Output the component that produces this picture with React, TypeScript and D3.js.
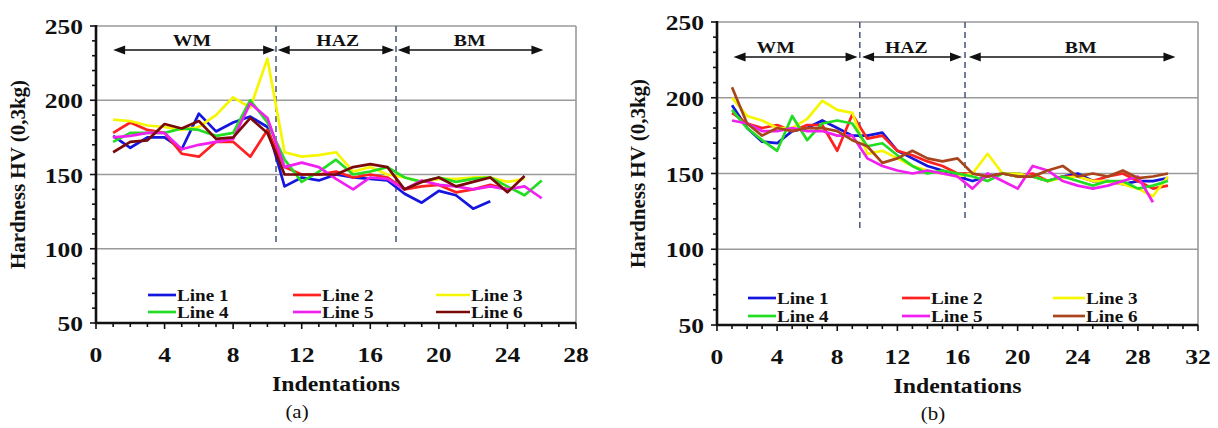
import React from 'react';
import * as d3 from 'd3';

// ---- data ----
const seriesNames = ['Line 1', 'Line 2', 'Line 3', 'Line 4', 'Line 5', 'Line 6'];
const colorsA = ['#1515e0', '#ff2020', '#f6f600', '#22dd22', '#f020f0', '#7a0a0a'];
const colorsB = ['#1515e0', '#ff2020', '#f6f600', '#22dd22', '#f020f0', '#a8451c'];

// (a) hardness per indentation, starting at indentation 1
const a1 = [176, 168, 175, 175, 167, 191, 179, 185, 189, 182, 142, 148, 146, 150, 148, 147, 146, 137, 131, 139, 136, 127, 132];
const a2 = [178, 185, 180, 178, 164, 162, 172, 172, 162, 180, 155, 150, 150, 152, 148, 150, 148, 140, 142, 143, 138, 140, 143, 140];
const a3 = [187, 186, 183, 182, 180, 182, 190, 202, 195, 228, 165, 162, 163, 165, 152, 155, 150, 148, 145, 147, 147, 148, 148, 145, 147];
const a4 = [172, 178, 178, 178, 181, 180, 176, 178, 200, 185, 160, 145, 152, 160, 150, 152, 155, 148, 145, 148, 145, 147, 148, 142, 136, 146];
const a5 = [175, 176, 178, 178, 167, 170, 172, 174, 198, 188, 155, 158, 155, 147, 140, 148, 147, 140, 146, 143, 142, 140, 142, 140, 142, 134];
const a6 = [165, 172, 173, 184, 181, 186, 174, 175, 188, 178, 150, 150, 150, 150, 155, 157, 155, 140, 145, 148, 142, 145, 148, 138, 149];

// (b)
const b1 = [195, 180, 171, 170, 178, 180, 185, 180, 175, 175, 177, 165, 160, 155, 152, 148, 145, 148, 150, 150, 148, 145, 148, 150, 145, 145, 143, 145, 145, 147];
const b2 = [190, 183, 180, 182, 178, 182, 182, 165, 189, 173, 175, 165, 162, 158, 155, 150, 150, 148, 150, 148, 150, 145, 148, 148, 145, 148, 150, 145, 140, 142];
const b3 = [200, 188, 185, 180, 180, 186, 198, 192, 190, 163, 165, 160, 155, 152, 150, 148, 150, 163, 150, 150, 148, 145, 147, 148, 145, 145, 143, 140, 135, 148];
const b4 = [192, 180, 172, 165, 188, 172, 183, 185, 183, 168, 170, 162, 155, 150, 152, 150, 148, 145, 150, 148, 148, 145, 148, 145, 142, 145, 145, 140, 142, 145];
const b5 = [185, 183, 178, 178, 180, 178, 178, 175, 175, 160, 155, 152, 150, 152, 150, 148, 140, 150, 145, 140, 155, 152, 145, 142, 140, 142, 145, 148, 131];
const b6 = [207, 183, 175, 180, 178, 180, 180, 178, 172, 168, 157, 160, 165, 160, 158, 160, 150, 148, 150, 148, 148, 152, 155, 148, 150, 148, 152, 147, 148, 150];

// zone boundaries and zone arrows (indentation units)
const zonesA = [
  { label: 'WM', from: 1, to: 10.45, at: 5.6 },
  { label: 'HAZ', from: 10.6, to: 17.4, at: 14.1 },
  { label: 'BM', from: 17.6, to: 26.1, at: 21.8 },
];
const zonesB = [
  { label: 'WM', from: 1.1, to: 9.35, at: 3.9 },
  { label: 'HAZ', from: 9.65, to: 16.3, at: 12.6 },
  { label: 'BM', from: 16.75, to: 30.5, at: 24.2 },
];
const dividersA = [{ x: 10.5, bottom: 102 }, { x: 17.5, bottom: 102 }];
const dividersB = [{ x: 9.5, bottom: 114 }, { x: 16.5, bottom: 118 }];

const yTicks = [50, 100, 150, 200, 250];
const FONT = '"Liberation Serif", "Times New Roman", serif';
const SX = 1.16;

const SText = ({ x, y, size, anchor = 'middle', bold = true, children }: any) => (
  <text
    transform={`translate(${x},${y}) scale(${SX},1)`}
    fontSize={size}
    fontWeight={bold ? 'bold' : 'normal'}
    textAnchor={anchor}
    fontFamily={FONT}
    fill="#111"
  >
    {children}
  </text>
);

const Chart = ({ series, colors, xMax, box, zones, dividers, legend, caption, titleX }: any) => {
  const x = d3.scaleLinear().domain([0, xMax]).range([box.left, box.right]);
  const y = d3.scaleLinear().domain([50, 250]).range([box.bottom, box.top]);
  const line = d3
    .line<number>()
    .x((_, i) => x(i + 1))
    .y((d) => y(d));
  const xMajor = d3.range(0, xMax + 1, 4);
  const xMinor = d3.range(0, xMax + 1, 1);
  const yMinor = d3.range(50, 251, 10);

  return (
    <g>
      {/* gridlines */}
      {yTicks.slice(1).map((t) => (
        <line key={t} x1={box.left} x2={box.right} y1={y(t)} y2={y(t)} stroke="#9a9a9a" strokeWidth={1.6} />
      ))}
      <line x1={box.right} x2={box.right} y1={box.top} y2={box.bottom} stroke="#9a9a9a" strokeWidth={1.6} />

      {/* zone dividers */}
      {dividers.map((d: any, i: number) => (
        <line key={i} x1={x(d.x)} x2={x(d.x)} y1={box.top} y2={y(d.bottom)} stroke="#4f5f80" strokeWidth={1.6} strokeDasharray="6,4" />
      ))}

      {/* zone arrows */}
      {zones.map((z: any) => (
        <g key={z.label}>
          <line x1={x(z.from) + 6} x2={x(z.to) - 6} y1={box.arrowY} y2={box.arrowY} stroke="#111" strokeWidth={1.6} />
          <path d={`M${x(z.from)},${box.arrowY} l12,-4.5 l0,9 z`} fill="#111" />
          <path d={`M${x(z.to)},${box.arrowY} l-12,-4.5 l0,9 z`} fill="#111" />
          <SText x={x(z.at)} y={box.arrowY - 4} size={17}>{z.label}</SText>
        </g>
      ))}

      {/* series */}
      {series.map((s: number[], i: number) => (
        <path key={i} d={line(s) || ''} fill="none" stroke={colors[i]} strokeWidth={2.7} strokeLinejoin="round" />
      ))}

      {/* legend */}
      {seriesNames.map((n, i) => {
        const col = i % 3;
        const row = Math.floor(i / 3);
        const lx = legend.xs[col];
        const ly = legend.ys[row];
        return (
          <g key={n}>
            <line x1={lx} x2={lx + legend.sw[col]} y1={ly} y2={ly} stroke={colors[i]} strokeWidth={2.7} />
            <SText x={lx + legend.sw[col] + 1} y={ly + 6} size={16.5} anchor="start">{n}</SText>
          </g>
        );
      })}

      {/* y axis */}
      <line x1={box.left} x2={box.left} y1={box.top - 1} y2={box.bottom + 1} stroke="#111" strokeWidth={2.6} />
      {yMinor.map((t) => (
        <line key={t} x1={box.left - (t % 50 === 0 ? 6 : 4)} x2={box.left} y1={y(t)} y2={y(t)} stroke="#111" strokeWidth={1.6} />
      ))}
      {yTicks.map((t) => (
        <SText key={t} x={box.left - 13} y={y(t) + 8} size={22} anchor="end">{t}</SText>
      ))}

      {/* x axis */}
      <line x1={box.left - 1} x2={box.right} y1={box.bottom} y2={box.bottom} stroke="#111" strokeWidth={2.6} />
      {xMinor.map((t) => (
        <line key={t} x1={x(t)} x2={x(t)} y1={box.bottom} y2={box.bottom + (t % 4 === 0 ? 6 : 4)} stroke="#111" strokeWidth={1.6} />
      ))}
      {xMajor.map((t) => (
        <SText key={t} x={x(t)} y={box.bottom + 39} size={22}>{t}</SText>
      ))}

      {/* titles */}
      <SText x={(box.left + box.right) / 2} y={box.bottom + 68} size={20.5}>Indentations</SText>
      <text
        transform={`translate(${titleX},${(box.top + box.bottom) / 2}) rotate(-90)`}
        fontSize={21}
        fontWeight="bold"
        textAnchor="middle"
        fontFamily={FONT}
        fill="#111"
      >
        Hardness HV (0,3kg)
      </text>
      <SText x={caption.x} y={caption.y} size={18} bold={false}>{caption.text}</SText>
    </g>
  );
};

export default function App() {
  return (
    <svg
      width={1218}
      height={428}
      style={{ position: 'absolute', left: 0, top: 0, background: '#fff' }}
    >
      <Chart
        series={[a1, a2, a3, a4, a5, a6]}
        colors={colorsA}
        xMax={28}
        box={{ left: 96, right: 576, top: 26, bottom: 323, arrowY: 50 }}
        zones={zonesA}
        dividers={dividersA}
        legend={{ xs: [148, 293, 436], sw: [28, 28, 34], ys: [295, 312] }}
        caption={{ x: 297, y: 418, text: '(a)' }}
        titleX={25}
      />
      <Chart
        series={[b1, b2, b3, b4, b5, b6]}
        colors={colorsB}
        xMax={32}
        box={{ left: 717, right: 1198, top: 22, bottom: 325, arrowY: 57 }}
        zones={zonesB}
        dividers={dividersB}
        legend={{ xs: [748, 902, 1053], sw: [28, 28, 32], ys: [298, 316] }}
        caption={{ x: 933, y: 420, text: '(b)' }}
        titleX={645}
      />
    </svg>
  );
}
